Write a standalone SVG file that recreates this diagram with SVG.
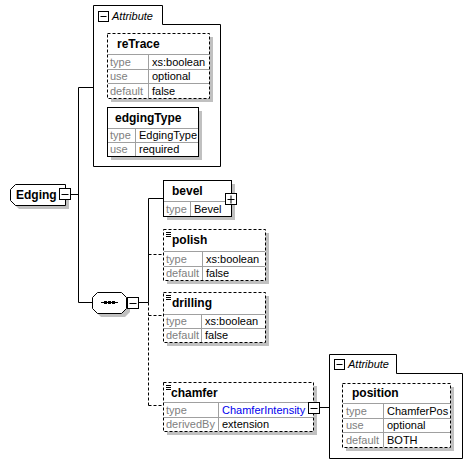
<svg xmlns="http://www.w3.org/2000/svg" width="472" height="464" viewBox="0 0 472 464">
<style>
text{font-family:"Liberation Sans",Arial,sans-serif;font-size:11px;fill:#000}
.h{font-weight:bold;font-size:12px}
.k{fill:#808080}
.i{font-style:italic}
.b{fill:#0000ee}
.box{fill:#fff;stroke:#000;stroke-width:1}
.opt{fill:#fff;stroke:#000;stroke-width:1;stroke-dasharray:3,2}
.sh{fill:#c0c0c0}
.row{stroke:#a0a0a0;stroke-width:1;fill:none}
.grp{fill:#fff;stroke:#000;stroke-width:1}
.ln{stroke:#000;stroke-width:1;fill:none}
.dl{stroke:#000;stroke-width:1;fill:none;stroke-dasharray:3,2}
.ic{fill:#fff;stroke:#000;stroke-width:1}
</style>
<g id="connectors">
<path class="ln" d="M70.5 194.5H78.5M78.5 87.5V302.5M78.5 87.5H93.5M78.5 302.5H92.5"/>
<path class="ln" d="M138 302.5H148.5M148.5 198.5V302.5M148.5 198.5H163"/>
<path class="dl" d="M148.5 302.5V405.5M148.5 254.5H163M148.5 315.5H163M148.5 405.5H163"/>
<path class="ln" d="M319 407.5H329.5"/>
</g>
<g id="attr1">
<path class="grp" d="M93.5 5.5H162.5V24.5H220.5V166.5H93.5Z"/>
<rect class="ic" x="98.5" y="11.5" width="10" height="10"/>
<path class="ln" d="M100.5 16.5H106.5"/>
<text class="i" x="112" y="20">Attribute</text>
</g>
<g id="reTrace">
<rect class="sh" x="111" y="37" width="102" height="65"/>
<rect class="opt" x="107.5" y="33.5" width="102" height="65"/>
<path class="row" d="M108 54.5H209M108 69.5H209M108 83.5H209M148.5 54V98"/>
<text class="h" x="117" y="48">reTrace</text>
<text class="k" x="110" y="66">type</text><text x="152" y="66">xs:boolean</text>
<text class="k" x="110" y="80">use</text><text x="152" y="80">optional</text>
<text class="k" x="110" y="95">default</text><text x="152" y="95">false</text>
</g>
<g id="edgingType">
<rect class="sh" x="111" y="111" width="91" height="49"/>
<rect class="box" x="107.5" y="107.5" width="91" height="49"/>
<path class="row" d="M108 128.5H198M108 142.5H198M135.5 128V156"/>
<text class="h" x="115" y="122">edgingType</text>
<text class="k" x="110" y="139">type</text><text x="139" y="139">EdgingType</text>
<text class="k" x="110" y="153">use</text><text x="139" y="153">required</text>
</g>
<g id="Edging">
<path class="sh" d="M19 188H69V209H19L14 204V193Z"/>
<path class="box" d="M15.5 184.5H65.5V205.5H15.5L10.5 200.5V189.5Z"/>
<text class="h" x="16" y="199">Edging</text>
<rect class="ic" x="59.5" y="188.5" width="11" height="11"/>
<path class="ln" d="M61.5 194.5H68.5"/>
</g>
<g id="sequence">
<path class="sh" d="M101 296H125L130 301V312L125 317H101L96 312V301Z"/>
<path class="box" d="M97.5 292.5H121.5L126.5 297.5V308.5L121.5 313.5H97.5L92.5 308.5V297.5Z"/>
<path class="ln" d="M101 302.5H118"/>
<rect x="104" y="301" width="3" height="3" fill="#000"/>
<rect x="108" y="301" width="3" height="3" fill="#000"/>
<rect x="112" y="301" width="3" height="3" fill="#000"/>
<rect class="ic" x="127.5" y="297.5" width="11" height="11"/>
<path class="ln" d="M129.5 303.5H136.5"/>
</g>
<g id="bevel">
<rect class="sh" x="167" y="184" width="68" height="36"/>
<rect class="box" x="163.5" y="180.5" width="68" height="36"/>
<path class="row" d="M164 201.5H231M190.5 201V216"/>
<text class="h" x="172" y="195">bevel</text>
<text class="k" x="166" y="213">type</text><text x="194" y="213">Bevel</text>
<rect class="ic" x="225.5" y="193.5" width="11" height="11"/>
<path class="ln" d="M227.5 199.5H234.5M231 195.5V203.5"/>
</g>
<g id="polish">
<rect class="sh" x="167" y="233" width="102" height="51"/>
<rect class="opt" x="163.5" y="229.5" width="102" height="51"/>
<path class="ln" d="M166 232.5H171M166 234.5H171M166 236.5H171"/>
<path class="row" d="M164 251.5H265M164 266.5H265M202.5 251V280"/>
<text class="h" x="172" y="244">polish</text>
<text class="k" x="166" y="263">type</text><text x="206" y="263">xs:boolean</text>
<text class="k" x="166" y="277">default</text><text x="206" y="277">false</text>
</g>
<g id="drilling">
<rect class="sh" x="167" y="296" width="102" height="50"/>
<rect class="opt" x="163.5" y="292.5" width="102" height="50"/>
<path class="ln" d="M166 295.5H171M166 297.5H171M166 299.5H171"/>
<path class="row" d="M164 314.5H265M164 328.5H265M201.5 314V342"/>
<text class="h" x="172" y="307">drilling</text>
<text class="k" x="166" y="325">type</text><text x="205" y="325">xs:boolean</text>
<text class="k" x="166" y="339">default</text><text x="205" y="339">false</text>
</g>
<g id="chamfer">
<rect class="sh" x="167" y="386" width="150" height="49"/>
<rect class="opt" x="163.5" y="382.5" width="150" height="49"/>
<path class="ln" d="M166 385.5H171M166 387.5H171M166 389.5H171"/>
<path class="row" d="M164 402.5H313M164 417.5H313M218.5 402V431"/>
<text class="h" x="171" y="397">chamfer</text>
<text class="k" x="166" y="414">type</text><text class="b" x="222" y="414">ChamferIntensity</text>
<text class="k" x="166" y="428">derivedBy</text><text x="222" y="428">extension</text>
<rect class="ic" x="308.5" y="402.5" width="11" height="11"/>
<path class="ln" d="M310.5 408.5H317.5"/>
</g>
<g id="attr2">
<path class="grp" d="M329.5 354.5H396.5V373.5H462.5V458.5H329.5Z"/>
<rect class="ic" x="334.5" y="359.5" width="10" height="10"/>
<path class="ln" d="M336.5 364.5H342.5"/>
<text class="i" x="348" y="368">Attribute</text>
</g>
<g id="position">
<rect class="sh" x="346" y="387" width="108" height="64"/>
<rect class="opt" x="342.5" y="383.5" width="108" height="64"/>
<path class="row" d="M343 403.5H450M343 418.5H450M343 432.5H450M383.5 403V447"/>
<text class="h" x="352" y="397">position</text>
<text class="k" x="346" y="415">type</text><text x="387" y="415">ChamferPos</text>
<text class="k" x="346" y="429">use</text><text x="387" y="429">optional</text>
<text class="k" x="346" y="444">default</text><text x="387" y="444">BOTH</text>
</g>
</svg>
